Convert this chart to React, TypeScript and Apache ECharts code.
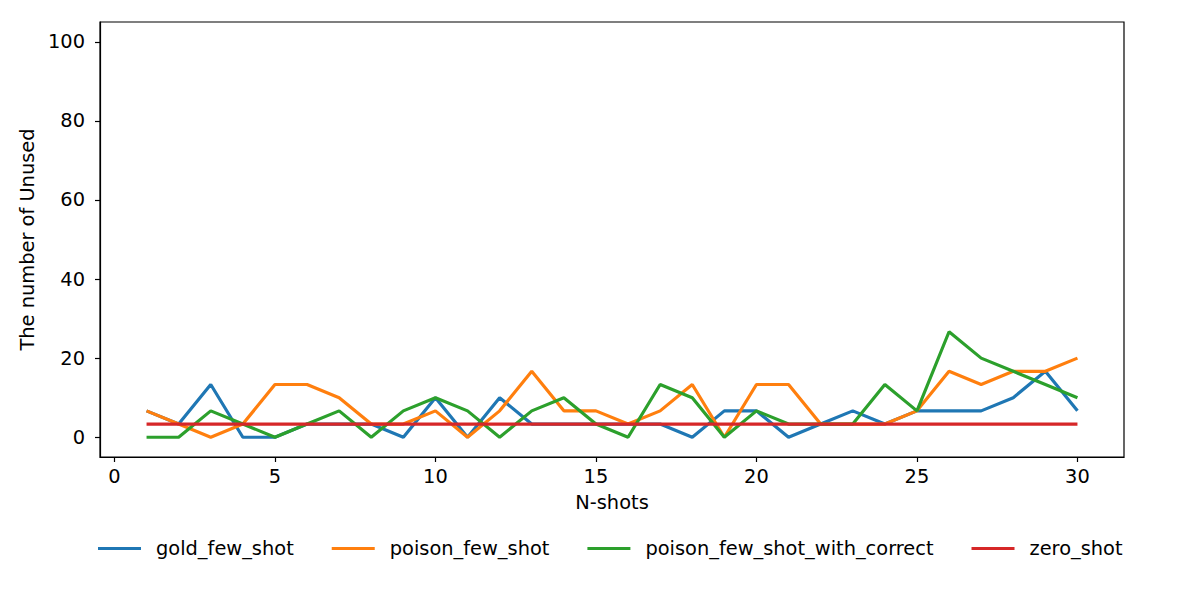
import React, { useEffect, useRef } from "react";
import * as echarts from "echarts";

const shots = Array.from({ length: 30 }, (_, i) => i + 1);
const xTicks = [0, 5, 10, 15, 20, 25, 30];
const yTicks = [0, 20, 40, 60, 80, 100];

const t = 10 / 3;
const goldFewShot = [2*t, t, 4*t, 0, 0, t, t, t, 0, 3*t, 0, 3*t, t, t, t, t, t, 0, 2*t, 2*t, 0, t, 2*t, t, 2*t, 2*t, 2*t, 3*t, 5*t, 2*t];
const poisonFewShot = [2*t, t, 0, t, 4*t, 4*t, 3*t, t, t, 2*t, 0, 2*t, 5*t, 2*t, 2*t, t, 2*t, 4*t, 0, 4*t, 4*t, t, t, t, 2*t, 5*t, 4*t, 5*t, 5*t, 6*t];
const poisonWithCorrect = [0, 0, 2*t, t, 0, t, 2*t, 0, 2*t, 3*t, 2*t, 0, 2*t, 3*t, t, 0, 4*t, 3*t, 0, 2*t, t, t, t, 4*t, 2*t, 8*t, 6*t, 5*t, 4*t, 3*t];
const zeroShot = shots.map(() => t);

const names = ["gold_few_shot", "poison_few_shot", "poison_few_shot_with_correct", "zero_shot"];
const colors = ["#1f77b4", "#ff7f0e", "#2ca02c", "#d62728"];
const seriesData = [goldFewShot, poisonFewShot, poisonWithCorrect, zeroShot];

const FONT = "DejaVu Sans";
const FS = 19.4;

export default function App() {
  const ref = useRef<HTMLDivElement>(null);
  useEffect(() => {
    if (!ref.current) return;
    const chart = echarts.init(ref.current, undefined, { renderer: "svg" });
    chart.setOption({
      animation: false,
      backgroundColor: "#ffffff",
      textStyle: { fontFamily: FONT },
      grid: {
        left: 100, right: 76, top: 22, bottom: 136,
        show: true, borderColor: "#000", borderWidth: 1.2, backgroundColor: "transparent",
      },
      legend: {
        left: 93, top: 534, orient: "horizontal",
        icon: "rect", itemWidth: 43, itemHeight: 3, itemGap: 38,
        textStyle: { fontFamily: FONT, fontSize: FS, color: "#000", padding: [0, 0, 0, 10] },
        data: names,
      },
      xAxis: {
        type: "value", min: -0.45, max: 31.45,
        name: "N-shots", nameLocation: "middle", nameGap: 36,
        nameTextStyle: { fontFamily: FONT, fontSize: FS, color: "#000" },
        axisLine: { show: true, onZero: false, lineStyle: { color: "#000", width: 1.2 } },
        axisTick: { show: true, length: 5, lineStyle: { color: "#000", width: 1.2 }, customValues: xTicks },
        axisLabel: { color: "#000", fontSize: FS, fontFamily: FONT, margin: 10, customValues: xTicks },
        splitLine: { show: false },
      },
      yAxis: {
        type: "value", min: -5, max: 105,
        name: "The number of Unused", nameLocation: "middle", nameGap: 61,
        nameTextStyle: { fontFamily: FONT, fontSize: FS, color: "#000" },
        axisLine: { show: true, onZero: false, lineStyle: { color: "#000", width: 1.2 } },
        axisTick: { show: true, length: 5, lineStyle: { color: "#000", width: 1.2 }, customValues: yTicks },
        axisLabel: { color: "#000", fontSize: FS, fontFamily: FONT, margin: 15, customValues: yTicks },
        splitLine: { show: false },
      },
      series: seriesData.map((d, i) => ({
        name: names[i],
        type: "line",
        data: d.map((v, j) => [shots[j], v]),
        showSymbol: false,
        symbol: "none",
        lineStyle: { color: colors[i], width: 3.2 },
        itemStyle: { color: colors[i] },
        z: 2 + i,
      })),
    });
    return () => chart.dispose();
  }, []);
  return <div ref={ref} style={{ width: 1200, height: 593, position: "absolute", left: 0, top: 0 }} />;
}
